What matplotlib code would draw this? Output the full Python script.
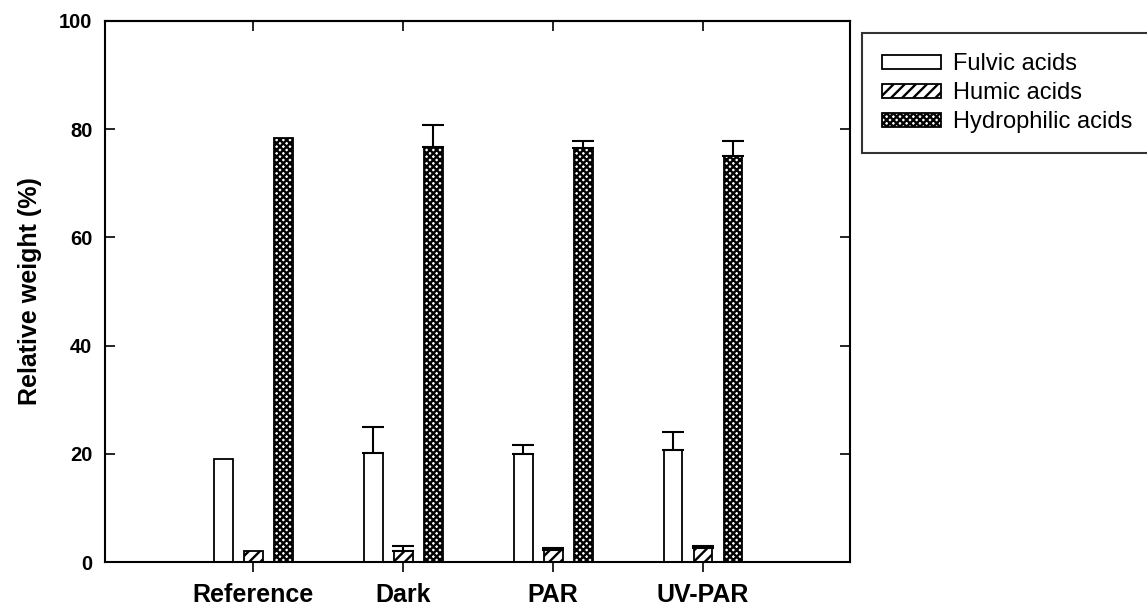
import numpy as np
import matplotlib
matplotlib.use("Agg")
import matplotlib.pyplot as plt

plt.rcParams['font.family'] = ['Liberation Sans', 'DejaVu Sans']
plt.rcParams['hatch.linewidth'] = 1.7

categories = ['Reference', 'Dark', 'PAR', 'UV-PAR']
series_names = ['Fulvic acids', 'Humic acids', 'Hydrophilic acids']
fulvic = [19.0, 20.2, 19.9, 20.7]
fulvic_err = [0.0, 4.8, 1.8, 3.4]
humic = [2.0, 2.1, 2.2, 2.6]
humic_err = [0.0, 0.9, 0.3, 0.4]
hydrophilic = [78.4, 76.8, 76.6, 75.0]
hydrophilic_err = [0.0, 4.0, 1.2, 2.8]
yticks = [0, 20, 40, 60, 80, 100]

fig = plt.figure(figsize=(11.47, 6.14), dpi=100)
ax = fig.add_axes([105/1147, 52/614, (850-105)/1147, (562-21)/614])

x = np.arange(len(categories))
offset = 0.2
width = 0.125
hatches = ['', '///', 'xxxxx']
values = [fulvic, humic, hydrophilic]
errs = [fulvic_err, humic_err, hydrophilic_err]

handles = []
for k, (vals, err, h, name) in enumerate(zip(values, errs, hatches, series_names)):
    pos = x + (k - 1) * offset
    b = ax.bar(pos, vals, width, facecolor='white', edgecolor='black',
               linewidth=1.3, hatch=h, label=name, zorder=2)
    handles.append(b)
    err = np.array(err)
    vals = np.array(vals)
    m = err > 0
    ax.errorbar(pos[m], vals[m], yerr=[np.zeros(m.sum()), err[m]], fmt='none',
                ecolor='black', elinewidth=1.5, capsize=8, capthick=1.5, zorder=3)

ax.set_xlim(-0.99, 3.98)
ax.set_ylim(0, 100)
ax.set_yticks(yticks)
ax.set_xticks(x)
ax.set_xticklabels(categories, fontsize=18, fontweight='bold')
ax.set_yticklabels([str(v) for v in yticks], fontsize=14.5, fontweight='bold')
ax.tick_params(axis='y', direction='in', length=7, width=1.2, pad=9, right=True)
ax.tick_params(axis='x', direction='out', length=7, width=1.2, pad=8)
sec = ax.secondary_xaxis('top')
sec.set_xticks(x)
sec.set_xticklabels([])
sec.tick_params(direction='in', length=7, width=1.2)
sec.spines['top'].set_linewidth(1.5)
for s in ax.spines.values():
    s.set_linewidth(1.5)

ax.set_ylabel('Relative weight (%)', fontsize=18, fontweight='bold', labelpad=12)

leg = fig.legend(handles=handles, labels=series_names, loc='upper left',
                 bbox_to_anchor=(862/1147, 1 - 33/614), fontsize=17,
                 handlelength=2.5, handleheight=0.55, handletextpad=0.5,
                 labelspacing=0.3, borderpad=0.85, frameon=True, fancybox=False,
                 borderaxespad=0)
leg.get_frame().set_edgecolor('black')
leg.get_frame().set_linewidth(1.5)

fig.savefig('out.png', dpi=100)
